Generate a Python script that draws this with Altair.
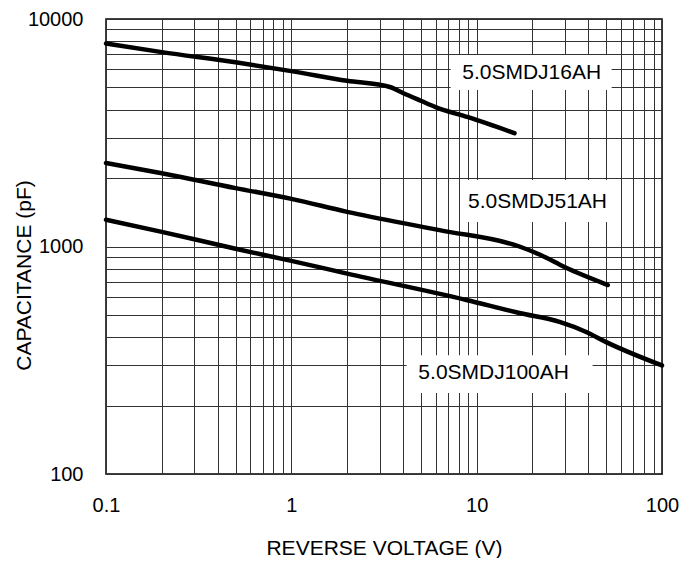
import altair as alt
import pandas as pd

# ---- data ----
volt_16 = [0.1, 0.2, 0.5, 1, 2, 3.4, 4, 5, 6, 9, 16]
cap_16 = [7800, 7150, 6450, 5900, 5350, 5025, 4730, 4370, 4100, 3700, 3150]

volt_51 = [0.1, 0.2, 0.5, 1, 2, 6.3, 17, 22, 30, 51]
cap_51 = [2330, 2100, 1805, 1620, 1420, 1180, 1000, 920, 810, 677]

volt_100 = [0.1, 0.2, 0.5, 1, 2, 8.8, 17, 28, 39, 50, 100]
cap_100 = [1310, 1160, 977, 865, 760, 582, 510, 466, 421, 380, 300]

series_names = ["5.0SMDJ16AH", "5.0SMDJ51AH", "5.0SMDJ100AH"]

# label anchor (voltage, capacitance) and white box extents
label_v = [19.8, 21.3, 12.35]
label_c = [5796, 1570, 279]
box_v1 = [7.24, 8.3, 4.19]
box_v2 = [53.5, 54.8, 42.2]
box_c1 = [6950, 1959, 333]
box_c2 = [4875, 1282, 227]

x_grid = [0.1, 0.2, 0.3, 0.4, 0.5, 0.6, 0.7, 0.8, 0.9,
          1, 2, 3, 4, 5, 6, 7, 8, 9,
          10, 20, 30, 40, 50, 60, 70, 80, 90, 100]
y_grid = [100, 200, 300, 400, 500, 600, 700, 800, 900,
          1000, 2000, 3000, 4000, 5000, 6000, 7000, 8000, 9000, 10000]
x_labels = [0.1, 1, 10, 100]
y_labels = [100, 1000, 10000]

rows = []
for name, vs, cs in zip(series_names, [volt_16, volt_51, volt_100], [cap_16, cap_51, cap_100]):
    for v, c in zip(vs, cs):
        rows.append({"series": name, "v": v, "c": c})
df_lines = pd.DataFrame(rows)

df_labels = pd.DataFrame({"label": series_names, "v": label_v, "c": label_c})
df_boxes = pd.DataFrame({"label": series_names, "v": box_v1, "v2": box_v2, "c": box_c1, "c2": box_c2})

FONT = "Liberation Sans"

xscale = alt.Scale(type="log", domain=[0.1, 100], nice=False)
yscale = alt.Scale(type="log", domain=[100, 10000], nice=False)

x_lab_expr = "indexof([" + ",".join(str(v) for v in x_labels) + "], datum.value) >= 0 ? format(datum.value, '~g') : ''"
y_lab_expr = "indexof([" + ",".join(str(v) for v in y_labels) + "], datum.value) >= 0 ? format(datum.value, '~g') : ''"

x_axis = alt.Axis(
    values=x_grid, grid=True, gridColor="#333333", gridWidth=1, gridOpacity=1,
    ticks=False, tickSize=0, domain=False,
    labelExpr=x_lab_expr, labelFont=FONT, labelFontSize=20, labelColor="black",
    labelPadding=21, labelFlush=False, labelOverlap=False,
    title="REVERSE VOLTAGE (V)", titleFont=FONT, titleFontSize=21,
    titleFontWeight="normal", titleColor="black",
    titleY=80, titleBaseline="alphabetic",
)
y_axis = alt.Axis(
    values=y_grid, grid=True, gridColor="#333333", gridWidth=1, gridOpacity=1,
    ticks=False, tickSize=0, domain=False,
    labelExpr=y_lab_expr, labelFont=FONT, labelFontSize=20, labelColor="black",
    labelPadding=23, labelFlush=False, labelOverlap=False,
    title="CAPACITANCE (pF)", titleFont=FONT, titleFontSize=21,
    titleFontWeight="normal", titleColor="black",
    titleAngle=270, titleAlign="center", titleBaseline="middle",
    titleX=-82, titleY=256,
)

boxes = alt.Chart(df_boxes).mark_rect(fill="white", stroke=None).encode(
    x=alt.X("v:Q", scale=xscale, axis=x_axis),
    x2="v2:Q",
    y=alt.Y("c:Q", scale=yscale, axis=y_axis),
    y2="c2:Q",
)

lines = alt.Chart(df_lines).mark_line(
    color="black", strokeWidth=4.5, interpolate="monotone", strokeCap="round", strokeJoin="round"
).encode(
    x=alt.X("v:Q", scale=xscale, axis=x_axis),
    y=alt.Y("c:Q", scale=yscale, axis=y_axis),
    detail="series:N",
)

texts = alt.Chart(df_labels).mark_text(
    font=FONT, fontSize=21, color="black", align="center", baseline="middle"
).encode(
    x=alt.X("v:Q", scale=xscale, axis=x_axis),
    y=alt.Y("c:Q", scale=yscale, axis=y_axis),
    text="label:N",
)

chart = alt.layer(boxes, lines, texts).properties(
    width=556, height=455,
    autosize=alt.AutoSizeParams(type="none"),
    padding={"left": 98, "top": 11, "right": 26, "bottom": 84},
    background="white",
).configure_view(stroke="black", strokeWidth=1.5)

chart.save("out.html", embed_options={"renderer": "svg", "actions": False})
